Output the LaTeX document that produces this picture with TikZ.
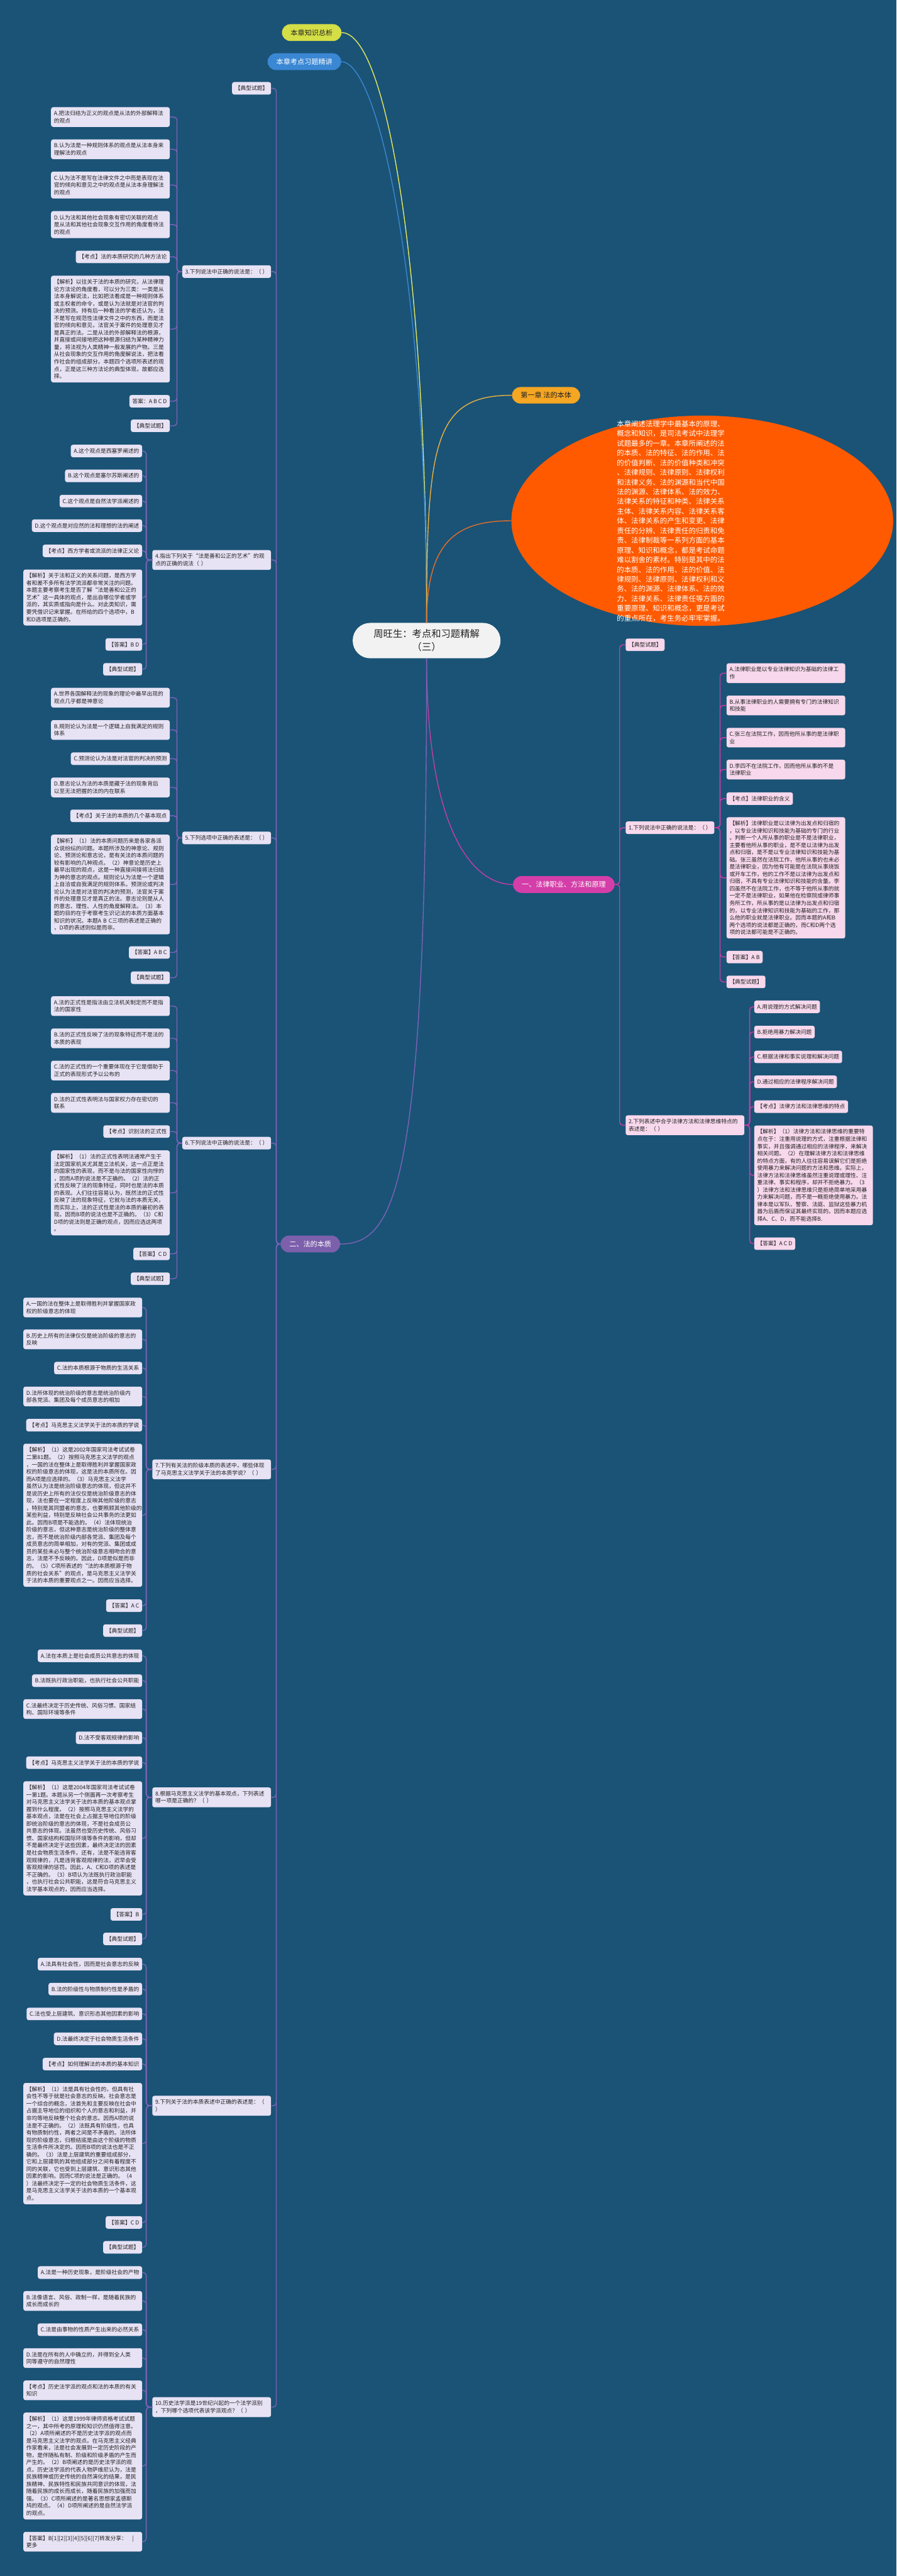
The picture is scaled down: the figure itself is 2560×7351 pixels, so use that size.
\documentclass[tikz,border=0pt]{standalone}
\usepackage{fontspec}
\setmainfont{Noto Sans CJK SC}
\usepackage{tikz}
\usetikzlibrary{shapes.geometric}
\definecolor{bgblue}{RGB}{26,83,118}
\definecolor{leafpu}{RGB}{231,226,244}
\definecolor{leafpk}{RGB}{247,216,236}
\definecolor{inkdark}{RGB}{34,34,34}
\definecolor{purpline}{RGB}{126,98,184}
\definecolor{magline}{RGB}{196,62,166}
\definecolor{yelline}{RGB}{226,232,96}
\definecolor{bluline}{RGB}{58,135,210}
\definecolor{chline}{RGB}{236,176,64}
\definecolor{orline}{RGB}{230,110,40}
\definecolor{summor}{RGB}{255,90,0}
\definecolor{pillyel}{RGB}{212,222,70}
\definecolor{pillblu}{RGB}{58,135,212}
\definecolor{pillorg}{RGB}{245,166,35}
\definecolor{pillmag}{RGB}{212,62,168}
\definecolor{pillpur}{RGB}{124,96,172}
\definecolor{rootfill}{RGB}{242,242,242}
\newcommand{\leaffont}{\fontsize{15.7}{20.7}\selectfont}
\newcommand{\pillfont}{\fontsize{20}{24}\selectfont}
\newcommand{\rootfont}{\fontsize{27.5}{38}\selectfont}
\newcommand{\summfont}{\fontsize{20.5}{27.7}\selectfont}

\begin{document}
\begin{tikzpicture}[x=1pt,y=-1pt,
  leaf/.style={fill=leafpu,text=inkdark,rounded corners=6pt,inner xsep=8.5pt,inner ysep=10.5pt,font=\leaffont,align=left},
  wide/.style={text width=322pt},
  pk/.style={leaf,fill=leafpk},
  pill/.style={rounded corners=24pt,minimum height=48pt,inner xsep=25pt,font=\pillfont},
  pline/.style={draw=purpline,line width=2.5pt,rounded corners=9pt},
  mline/.style={draw=magline,line width=2.5pt,rounded corners=9pt}]
  \fill[bgblue] (0,0) rectangle (2560,7351);

  \node[pill,fill=rootfill,text=inkdark,font=\rootfont,align=center,minimum width=422pt,minimum height=101pt,rounded corners=50pt] (root) at (1218,1828) {周旺生：考点和习题精解\\（三）};
  \node[pill,fill=pillyel,text=inkdark] (zongxi) at (890,93) {本章知识总析};
  \node[pill,fill=pillblu,text=white] (jingjiang) at (869,176) {本章考点习题精讲};
  \node[pill,fill=pillorg,text=inkdark,minimum height=47pt] (ch1) at (1559,1128) {第一章 法的本体};
  \node[ellipse,fill=summor,minimum width=1090pt,minimum height=600pt] (summ) at (2005,1486) {};
  \node[text=white,font=\summfont,align=left,inner sep=0pt] (summtx) at (1915,1487) {本章阐述法理学中最基本的原理、\\概念和知识，是司法考试中法理学\\试题最多的一章。本章所阐述的法\\的本质、法的特征、法的作用、法\\的价值判断、法的价值种类和冲突\\、法律规则、法律原则、法律权利\\和法律义务、法的渊源和当代中国\\法的渊源、法律体系、法的效力、\\法律关系的特征和种类、法律关系\\主体、法律关系内容、法律关系客\\体、法律关系的产生和变更、法律\\责任的分辨、法律责任的归责和免\\责、法律制裁等一系列方面的基本\\原理、知识和概念，都是考试命题\\难以割舍的素材。特别是其中的法\\的本质、法的作用、法的价值、法\\律规则、法律原则、法律权利和义\\务、法的渊源、法律体系、法的效\\力、法律关系、法律责任等方面的\\重要原理、知识和概念，更是考试\\的重点所在，考生务必牢牢掌握。};
  \node[pill,fill=pillmag,text=white,anchor=east] (part1) at (1755,2524) {一、法律职业、方法和原理};
  \node[pill,fill=pillpur,text=white] (part2) at (886,3550) {二、法的本质};

  \draw[yelline,line width=2.5pt] (zongxi.east) .. controls +(130,0) and +(0,-1000) .. (root.north);
  \draw[bluline,line width=2.5pt] (jingjiang.east) .. controls +(110,0) and +(0,-950) .. (root.north);
  \draw[chline,line width=2.5pt] (root.north) .. controls +(0,-520) and +(-220,0) .. (ch1.west);
  \draw[orline,line width=2.5pt] (root.north) .. controls +(0,-230) and +(-160,0) .. (summ.west);
  \draw[magline,line width=2.5pt] (root.south) .. controls +(0,480) and +(-120,0) .. (part1.west);
  \draw[purpline,line width=2.5pt] (root.south) .. controls +(0,1500) and +(160,0) .. (part2.east);

  % 一、法律职业、方法和原理
  \node[pk,anchor=west] (t1) at (1786,1840) {【典型试题】};
  \node[pk,anchor=west] (q1) at (1786,2362) {1.下列说法中正确的说法是：（ ）};
  \node[pk,wide,anchor=west] (q1a) at (2074,1921) {A.法律职业是以专业法律知识为基础的法律工\\作};
  \node[pk,wide,anchor=west] (q1b) at (2074,2013) {B.从事法律职业的人需要拥有专门的法律知识\\和技能};
  \node[pk,wide,anchor=west] (q1c) at (2074,2105) {C.张三在法院工作，因而他所从事的是法律职\\业};
  \node[pk,wide,anchor=west] (q1d) at (2074,2196) {D.李四不在法院工作，因而他所从事的不是\\法律职业};
  \node[pk,anchor=west] (q1k) at (2074,2279) {【考点】法律职业的含义};
  \node[pk,wide,anchor=west] (q1j) at (2074,2505) {【解析】法律职业是以法律为出发点和归宿的\\，以专业法律知识和技能为基础的专门的行业\\。判断一个人所从事的职业是不是法律职业，\\主要看他所从事的职业，是不是以法律为出发\\点和归宿，是不是以专业法律知识和技能为基\\础。张三虽然在法院工作，他所从事的也未必\\是法律职业，因为他有可能是在法院从事烧饭\\或开车工作，他的工作不是以法律为出发点和\\归宿，不具有专业法律知识和技能的含量。李\\四虽然不在法院工作，也不等于他所从事的就\\一定不是法律职业，如果他在检察院或律师事\\务所工作，所从事的是以法律为出发点和归宿\\的，以专业法律知识和技能为基础的工作，那\\么他的职业就是法律职业。因而本题的A和B\\两个选项的说法都是正确的，而C和D两个选\\项的说法都可能是不正确的。};
  \node[pk,anchor=west] (q1s) at (2074,2731) {【答案】A B};
  \node[pk,anchor=west] (q1t) at (2074,2802) {【典型试题】};
  \node[pk,wide,anchor=west] (q2) at (1786,3211) {2.下列表述中合乎法律方法和法律思维特点的\\表述是：（ ）};
  \node[pk,anchor=west] (q2a) at (2153,2873) {A.用说理的方式解决问题};
  \node[pk,anchor=west] (q2b) at (2153,2945) {B.拒绝用暴力解决问题};
  \node[pk,anchor=west] (q2c) at (2153,3016) {C.根据法律和事实说理和解决问题};
  \node[pk,anchor=west] (q2d) at (2153,3087) {D.通过相应的法律程序解决问题};
  \node[pk,anchor=west] (q2k) at (2153,3158) {【考点】法律方法和法律思维的特点};
  \node[pk,wide,anchor=west] (q2j) at (2153,3354) {【解析】（1）法律方法和法律思维的重要特\\点在于：注重用说理的方式，注重根据法律和\\事实，并且强调通过相应的法律程序，来解决\\相关问题。（2）在理解法律方法和法律思维\\的特点方面，有的人往往容易误解它们是拒绝\\使用暴力来解决问题的方法和思维。实际上，\\法律方法和法律思维虽然注重说理或理性、注\\重法律、事实和程序，却并不拒绝暴力。（3\\）法律方法和法律思维只是拒绝简单地采用暴\\力来解决问题，而不是一概拒绝使用暴力。法\\律本是以军队、警察、法庭、监狱这些暴力机\\器为后盾而保证其最终实现的。因而本题应选\\择A、C、D，而不能选择B.};
  \node[pk,anchor=west] (q2s) at (2153,3549) {【答案】A C D};

  \foreach \c in {t1,q1,q2} \draw[mline] (part1.east) -- ++(14,0) |- (\c.west);
  \foreach \c in {a,b,c,d,k,j,s,t} \draw[mline] (q1.east) -- ++(16,0) |- (q1\c.west);
  \foreach \c in {a,b,c,d,k,j,s} \draw[mline] (q2.east) -- ++(15,0) |- (q2\c.west);

  % 二、法的本质
  \node[leaf,anchor=east] (t2) at (774,252) {【典型试题】};
  \node[leaf,anchor=east] (q3) at (774,775) {3.下列说法中正确的说法是：（ ）};
  \node[leaf,wide,anchor=east] (q3a) at (485,334) {A.把法归结为正义的观点是从法的外部解释法\\的观点};
  \node[leaf,wide,anchor=east] (q3b) at (485,426) {B.认为法是一种规则体系的观点是从法本身来\\理解法的观点};
  \node[leaf,wide,anchor=east] (q3c) at (485,528) {C.认为法不是写在法律文件之中而是表现在法\\官的倾向和意见之中的观点是从法本身理解法\\的观点};
  \node[leaf,wide,anchor=east] (q3d) at (485,641) {D.认为法和其他社会现象有密切关联的观点\\是从法和其他社会现象交互作用的角度看待法\\的观点};
  \node[leaf,anchor=east] (q3k) at (485,733) {【考点】法的本质研究的几种方法论};
  \node[leaf,wide,anchor=east] (q3j) at (485,939) {【解析】以往关于法的本质的研究，从法律理\\论方法论的角度看，可以分为三类：一类是从\\法本身解说法，比如把法看成是一种规则体系\\或主权者的命令，或是认为法就是对法官的判\\决的预测。持有后一种看法的学者还认为，法\\不是写在规范性法律文件之中的东西，而是法\\官的倾向和意见，法官关于案件的处理意见才\\是真正的法。二是从法的外部解释法的根源，\\并直接或间接地把这种根源归结为某种精神力\\量，将法视为人类精神一般发展的产物。三是\\从社会现象的交互作用的角度解说法，把法看\\作社会的组成部分。本题四个选项所表述的观\\点，正是这三种方法论的典型体现，故都应选\\择。};
  \node[leaf,anchor=east] (q3s) at (485,1145) {答案：A B C D};
  \node[leaf,anchor=east] (q3t) at (485,1215) {【典型试题】};

  \node[leaf,wide,anchor=east] (q4) at (774,1598) {4.指出下列关于“法是善和公正的艺术”的观\\点的正确的说法（ ）};
  \node[leaf,anchor=east] (q4a) at (406,1287) {A.这个观点是西塞罗阐述的};
  \node[leaf,anchor=east] (q4b) at (406,1358) {B.这个观点是塞尔苏斯阐述的};
  \node[leaf,anchor=east] (q4c) at (406,1430) {C.这个观点是自然法学派阐述的};
  \node[leaf,anchor=east] (q4d) at (406,1500) {D.这个观点是对应然的法和理想的法的阐述};
  \node[leaf,anchor=east] (q4k) at (406,1572) {【考点】西方学者或流派的法律正义论};
  \node[leaf,wide,anchor=east] (q4j) at (406,1705) {【解析】关于法和正义的关系问题，是西方学\\者和差不多所有法学流派都非常关注的问题。\\本题主要考察考生是否了解“法是善和公正的\\艺术”这一具体的观点，是出自哪位学者或学\\派的，其实质或指向是什么。对此类知识，需\\要凭借识记来掌握。在所给的四个选项中，B\\和D选项是正确的。};
  \node[leaf,anchor=east] (q4s) at (406,1839) {【答案】B D};
  \node[leaf,anchor=east] (q4t) at (406,1910) {【典型试题】};

  \node[leaf,anchor=east] (q5) at (774,2391) {5.下列选项中正确的表述是：（ ）};
  \node[leaf,wide,anchor=east] (q5a) at (485,1991) {A.世界各国解释法的现象的理论中最早出现的\\观点几乎都是神意论};
  \node[leaf,wide,anchor=east] (q5b) at (485,2083) {B.规则论认为法是一个逻辑上自我满足的规则\\体系};
  \node[leaf,anchor=east] (q5c) at (485,2165) {C.预测论认为法是对法官的判决的预测};
  \node[leaf,wide,anchor=east] (q5d) at (485,2247) {D.意志论认为法的本质是藏于法的现象背后\\以至无法把握的法的内在联系};
  \node[leaf,anchor=east] (q5k) at (485,2328) {【考点】关于法的本质的几个基本观点};
  \node[leaf,wide,anchor=east] (q5j) at (485,2524) {【解析】（1）法的本质问题历来是各家各派\\众说纷纭的问题。本题所涉及的神意论、规则\\论、预测论和意志论，是有关法的本质问题的\\较有影响的几种观点。（2）神意论是历史上\\最早出现的观点，这是一种直接间接将法归结\\为神的意志的观点。规则论认为法是一个逻辑\\上自洽或自我满足的规则体系。预测论或判决\\论认为法是对法官的判决的预测，法官关于案\\件的处理意见才是真正的法。意志论则是从人\\的意志、理性、人性的角度解释法。（3）本\\题的目的在于考察考生识记法的本质方面基本\\知识的状况。本题A B C三项的表述是正确的\\，D项的表述则似是而非。};
  \node[leaf,anchor=east] (q5s) at (485,2718) {【答案】A B C};
  \node[leaf,anchor=east] (q5t) at (485,2790) {【典型试题】};

  \node[leaf,anchor=east] (q6) at (774,3262) {6.下列说法中正确的说法是：（ ）};
  \node[leaf,wide,anchor=east] (q6a) at (485,2871) {A.法的正式性是指法由立法机关制定而不是指\\法的国家性};
  \node[leaf,wide,anchor=east] (q6b) at (485,2963) {B.法的正式性反映了法的现象特征而不是法的\\本质的表现};
  \node[leaf,wide,anchor=east] (q6c) at (485,3055) {C.法的正式性的一个重要体现在于它是借助于\\正式的表现形式予以公布的};
  \node[leaf,wide,anchor=east] (q6d) at (485,3147) {D.法的正式性表明法与国家权力存在密切的\\联系};
  \node[leaf,anchor=east] (q6k) at (485,3229) {【考点】识别法的正式性};
  \node[leaf,wide,anchor=east] (q6j) at (485,3404) {【解析】（1）法的正式性表明法通常产生于\\法定国家机关尤其是立法机关，这一点正是法\\的国家性的表现，而不是与法的国家性向悖的\\，因而A项的说法是不正确的。（2）法的正\\式性反映了法的现象特征，同时也是法的本质\\的表现。人们往往容易认为，既然法的正式性\\反映了法的现象特征，它就与法的本质无关，\\而实际上，法的正式性是法的本质的最初的表\\现。因而B项的说法也是不正确的。（3）C和\\D项的说法则是正确的观点，因而应选这两项\\。};
  \node[leaf,anchor=east] (q6s) at (485,3578) {【答案】C D};
  \node[leaf,anchor=east] (q6t) at (485,3649) {【典型试题】};

  \node[leaf,wide,anchor=east] (q7) at (774,4193) {7.下列有关法的阶级本质的表述中，哪些体现\\了马克思主义法学关于法的本质学说？（ ）};
  \node[leaf,wide,anchor=east] (q7a) at (406,3731) {A.一国的法在整体上是取得胜利并掌握国家政\\权的阶级意志的体现};
  \node[leaf,wide,anchor=east] (q7b) at (406,3822) {B.历史上所有的法律仅仅是统治阶级的意志的\\反映};
  \node[leaf,anchor=east] (q7c) at (406,3904) {C.法的本质根源于物质的生活关系};
  \node[leaf,wide,anchor=east] (q7d) at (406,3985) {D.法所体现的统治阶级的意志是统治阶级内\\部各党派、集团及每个成员意志的相加};
  \node[leaf,anchor=east] (q7k) at (406,4067) {【考点】马克思主义法学关于法的本质的学说};
  \node[leaf,wide,anchor=east] (q7j) at (406,4324) {【解析】（1）这是2002年国家司法考试试卷\\二第81题。（2）按照马克思主义法学的观点\\，一国的法在整体上是取得胜利并掌握国家政\\权的阶级意志的体现，这是法的本质所在。因\\而A项是应选择的。（3）马克思主义法学\\虽然认为法是统治阶级意志的体现，但这并不\\是说历史上所有的法仅仅是统治阶级意志的体\\现，法也要在一定程度上反映其他阶级的意志\\，特别是其同盟者的意志，也要照顾其他阶级的\\某些利益，特别是反映社会公共事务的法更如\\此。因而B项是不能选的。（4）法体现统治\\阶级的意志，但这种意志是统治阶级的整体意\\志，而不是统治阶级内部各党派、集团及每个\\成员意志的简单相加，对有的党派、集团或成\\员的某些未必与整个统治阶级意志相吻合的意\\志，法是不予反映的。因此，D项是似是而非\\的。（5）C项所表述的“法的本质根源于物\\质的社会关系”的观点，是马克思主义法学关\\于法的本质的重要观点之一。因而应当选择。};
  \node[leaf,anchor=east] (q7s) at (406,4582) {【答案】A C};
  \node[leaf,anchor=east] (q7t) at (406,4653) {【典型试题】};

  \node[leaf,wide,anchor=east] (q8) at (774,5129) {8.根据马克思主义法学的基本观点，下列表述\\哪一项是正确的？（ ）};
  \node[leaf,anchor=east] (q8a) at (406,4725) {A.法在本质上是社会成员公共意志的体现};
  \node[leaf,anchor=east] (q8b) at (406,4796) {B.法既执行政治职能，也执行社会公共职能};
  \node[leaf,wide,anchor=east] (q8c) at (406,4877) {C.法最终决定于历史传统、风俗习惯、国家结\\构、国际环境等条件};
  \node[leaf,anchor=east] (q8d) at (406,4959) {D.法不受客观规律的影响};
  \node[leaf,anchor=east] (q8k) at (406,5030) {【考点】马克思主义法学关于法的本质的学说};
  \node[leaf,wide,anchor=east] (q8j) at (406,5246) {【解析】（1）这是2004年国家司法考试试卷\\一第1题。本题从另一个侧面再一次考察考生\\对马克思主义法学关于法的本质的基本观点掌\\握到什么程度。（2）按照马克思主义法学的\\基本观点，法是在社会上占据主导地位的阶级\\即统治阶级的意志的体现，不是社会成员公\\共意志的体现。法虽然也受历史传统、风俗习\\惯、国家结构和国际环境等条件的影响，但却\\不是最终决定于这些因素，最终决定法的因素\\是社会物质生活条件。还有，法是不能违背客\\观规律的，凡是违背客观规律的法，迟早会受\\客观规律的惩罚。因此，A、C和D项的表述是\\不正确的。（3）B项认为法既执行政治职能\\，也执行社会公共职能，这是符合马克思主义\\法学基本观点的，因而应当选择。};
  \node[leaf,anchor=east] (q8s) at (406,5463) {【答案】B};
  \node[leaf,anchor=east] (q8t) at (406,5533) {【典型试题】};

  \node[leaf,wide,anchor=east] (q9) at (774,6009) {9.下列关于法的本质表述中正确的表述是：（\\）};
  \node[leaf,anchor=east] (q9a) at (406,5605) {A.法具有社会性，因而是社会意志的反映};
  \node[leaf,anchor=east] (q9b) at (406,5676) {B.法的阶级性与物质制约性是矛盾的};
  \node[leaf,anchor=east] (q9c) at (406,5747) {C.法也受上层建筑、意识形态其他因素的影响};
  \node[leaf,anchor=east] (q9d) at (406,5818) {D.法最终决定于社会物质生活条件};
  \node[leaf,anchor=east] (q9k) at (406,5890) {【考点】如何理解法的本质的基本知识};
  \node[leaf,wide,anchor=east] (q9j) at (406,6117) {【解析】（1）法是具有社会性的，但具有社\\会性不等于就是社会意志的反映。社会意志是\\一个综合的概念，法首先和主要反映在社会中\\占据主导地位的组织和个人的意志和利益，并\\非均等地反映整个社会的意志。因而A项的说\\法是不正确的。（2）法既具有阶级性，也具\\有物质制约性，两者之间是不矛盾的。法所体\\现的阶级意志，归根结底是由这个阶级的物质\\生活条件所决定的。因而B项的说法也是不正\\确的。（3）法是上层建筑的重要组成部分，\\它和上层建筑的其他组成部分之间有着程度不\\同的关联，它也受到上层建筑、意识形态其他\\因素的影响。因而C项的说法是正确的。（4\\）法最终决定于一定的社会物质生活条件，这\\是马克思主义法学关于法的本质的一个基本观\\点。};
  \node[leaf,anchor=east] (q9s) at (406,6342) {【答案】C D};
  \node[leaf,anchor=east] (q9t) at (406,6413) {【典型试题】};

  \node[leaf,wide,anchor=east] (q10) at (774,6869) {10.历史法学派是19世纪兴起的一个法学派别\\，下列哪个选项代表该学派观点？（ ）};
  \node[leaf,anchor=east] (q10a) at (406,6485) {A.法是一种历史现象，是阶级社会的产物};
  \node[leaf,wide,anchor=east] (q10b) at (406,6566) {B.法像语言、风俗、政制一样，是随着民族的\\成长而成长的};
  \node[leaf,anchor=east] (q10c) at (406,6648) {C.法是由事物的性质产生出来的必然关系};
  \node[leaf,wide,anchor=east] (q10d) at (406,6729) {D.法是在所有的人中确立的，并得到全人类\\同等遵守的自然理性};
  \node[leaf,wide,anchor=east] (q10k) at (406,6821) {【考点】历史法学派的观点和法的本质的有关\\知识};
  \node[leaf,wide,anchor=east] (q10j) at (406,7037) {【解析】（1）这是1999年律师资格考试试题\\之一，其中所考的原理和知识仍然值得注意。\\（2）A项所阐述的不是历史法学派的观点而\\是马克思主义法学的观点。在马克思主义经典\\作家看来，法是社会发展到一定历史阶段的产\\物，是伴随私有制、阶级和阶级矛盾的产生而\\产生的。（2）B项阐述的是历史法学派的观\\点。历史法学派的代表人物萨维尼认为，法是\\民族精神或历史传统的自然演化的结果，是民\\族精神、民族特性和民族共同意识的体现，法\\随着民族的成长而成长，随着民族的加强而加\\强。（3）C项所阐述的是著名思想家孟德斯\\鸠的观点。（4）D项所阐述的是自然法学派\\的观点。};
  \node[leaf,wide,anchor=east] (q10s) at (406,7253) {【答案】B[1][2][3][4][5][6][7]转发分享：　|\\更多};

  \foreach \c in {t2,q3,q4,q5,q6,q7,q8,q9,q10} \draw[pline] (part2.west) -- ++(-12,0) |- (\c.east);
  \foreach \q/\d in {q3/15,q5/15,q6/15,q4/17,q7/17,q8/17,q9/17} {
    \foreach \c in {a,b,c,d,k,j,s,t} \draw[pline] (\q.west) -- ++(-\d,0) |- (\q\c.east);
  }
  \foreach \c in {a,b,c,d,k,j,s} \draw[pline] (q10.west) -- ++(-17,0) |- (q10\c.east);
\end{tikzpicture}
\end{document}
